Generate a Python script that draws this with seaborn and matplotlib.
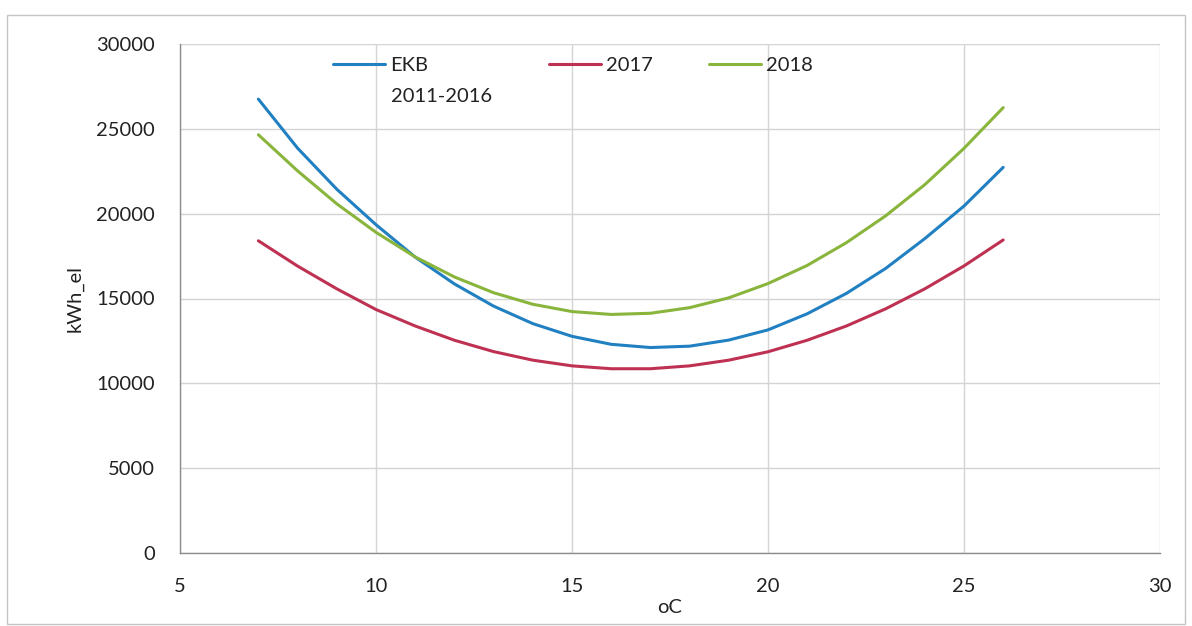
import numpy as np
import pandas as pd
import matplotlib
matplotlib.use("Agg")
import matplotlib.pyplot as plt
from matplotlib.patches import Rectangle
from matplotlib.lines import Line2D
import seaborn as sns

# temperatures (oC) and electricity (kWh_el)
temp = [7, 8, 9, 10, 11, 12, 13, 14, 15, 16, 17, 18, 19, 20, 21, 22, 23, 24, 25, 26]
ekb = [26750, 23860, 21440, 19350, 17440, 15860, 14550, 13520, 12770, 12300,
       12110, 12190, 12550, 13150, 14100, 15300, 16770, 18530, 20450, 22730]
y2017 = [18400, 16910, 15570, 14350, 13380, 12540, 11870, 11365, 11030, 10860,
         10860, 11030, 11365, 11860, 12540, 13380, 14390, 15570, 16920, 18450]
y2018 = [24650, 22520, 20580, 18900, 17450, 16270, 15340, 14660, 14230, 14060,
         14130, 14460, 15040, 15880, 16950, 18290, 19870, 21710, 23850, 26250]

series_names = ["EKB", "2017", "2018"]
colors = ["#2180c2", "#bf3152", "#8ab53c"]

df = pd.concat([
    pd.DataFrame({"oC": temp, "kWh_el": ekb, "serie": "EKB"}),
    pd.DataFrame({"oC": temp, "kWh_el": y2017, "serie": "2017"}),
    pd.DataFrame({"oC": temp, "kWh_el": y2018, "serie": "2018"}),
])

sns.set_style("white")
plt.rcParams['font.family'] = ['Lato', 'DejaVu Sans']
fs = 14.5
txt_col = "#222222"

fig = plt.figure(figsize=(11.92, 6.26), dpi=100)
ax = fig.add_axes([180/1192, 1-553/626, 980/1192, 509/626])

sns.lineplot(data=df, x="oC", y="kWh_el", hue="serie", hue_order=series_names,
             palette=colors, linewidth=2.2, ax=ax, legend=False)
for ln in ax.get_lines():
    ln.set_solid_joinstyle("round")

ax.set_xlim(5, 30)
ax.set_ylim(0, 30000)
ax.set_xticks(range(5, 31, 5))
ax.set_yticks(range(0, 30001, 5000))
ax.grid(True, color="#d4d4d4", linewidth=1.0)
for s in ["top", "right"]:
    ax.spines[s].set_visible(False)
for s in ["left", "bottom"]:
    ax.spines[s].set_color("#8c8c8c")
    ax.spines[s].set_linewidth(1.0)
ax.tick_params(axis="both", length=0, labelsize=fs, colors=txt_col)
ax.tick_params(axis="x", pad=18)
ax.tick_params(axis="y", pad=18)
ax.set_xlabel("oC", fontsize=fs, color=txt_col, labelpad=3)
ax.set_ylabel("kWh_el", fontsize=fs, color=txt_col, labelpad=9)

# legend: EKB alone (its label wraps), then 2017 and 2018
handles = [Line2D([], [], color=c, linewidth=2.2) for c in colors]
leg_kw = dict(loc="center left", frameon=False, fontsize=fs, handlelength=2.6,
              handletextpad=0.25, borderpad=0, borderaxespad=0, labelcolor=txt_col)
leg1 = ax.legend(handles[:1], series_names[:1],
                 bbox_to_anchor=(153/980, 0.958), **leg_kw)
ax.add_artist(leg1)
ax.legend(handles[1:], series_names[1:], ncol=2, columnspacing=2.75,
          bbox_to_anchor=(369/980, 0.958), **leg_kw)
ax.text(211/980, 451/509, "2011-2016", transform=ax.transAxes,
        fontsize=fs, color=txt_col, ha="left", va="baseline")

# outer chart border
fig.patches.append(Rectangle((7/1192, 2/626), 1178/1192, 609/626,
                             transform=fig.transFigure, fill=False,
                             edgecolor="#c4c4c4", linewidth=1.0))

fig.savefig("out.png", dpi=100)
